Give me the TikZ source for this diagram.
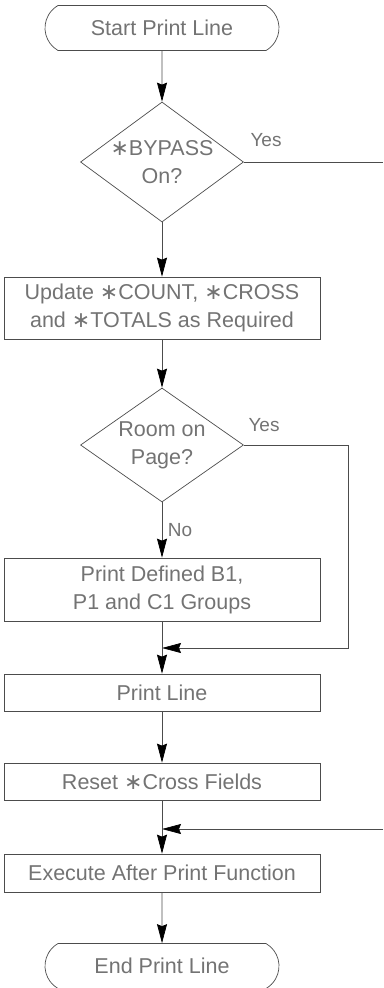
\documentclass[tikz,border=0pt]{standalone}
\usepackage{fontspec}
\setmainfont{Liberation Sans}
\newfontfamily\starfont{DejaVu Sans}
\usetikzlibrary{shapes.geometric,shapes.misc,arrows.meta}

\newcommand{\starmark}{{\starfont\fontsize{22}{28}\selectfont ∗}}

\tikzset{
    termbox/.style={shape=rounded rectangle, rounded rectangle arc length=120, draw=black!70, line width=0.7pt, minimum width=234pt, minimum height=45pt, inner sep=0pt, text=black!55},
    procbox/.style={shape=rectangle, draw=black!70, line width=0.7pt, minimum width=316pt, inner sep=0pt, align=center, text=black!55},
    decbox/.style={shape=diamond, aspect=1.36, draw=black!70, line width=0.7pt, minimum width=163pt, inner sep=0pt, align=center, text=black!55},
    wire/.style={draw=black!70, line width=0.7pt},
    flow/.style={wire, -{Stealth[length=19pt, width=10pt, inset=2pt, color=black]}},
    lbl/.style={text=black!55, font=\fontsize{19}{23}\selectfont}
}

\begin{document}
\begin{tikzpicture}[x=1pt, y=-1pt, font=\fontsize{21.5}{28}\selectfont]
    		\useasboundingbox (0,0) rectangle (383,988);
    		% Paths, nodes and wires:
    		\node[termbox](N1) at (162, 28){Start Print Line};
    		\node[decbox, minimum height=120pt](N2) at (162, 162){\starmark BYPASS\\On?};
    		\node[procbox, minimum height=62pt](N3) at (162, 308){Update \starmark COUNT, \starmark CROSS\\and \starmark TOTALS as Required};
    		\node[decbox, minimum height=114pt](N4) at (162, 445){Room on\\Page?};
    		\node[procbox, minimum height=63pt](N5) at (162, 589.5){Print Defined B1,\\P1 and C1 Groups};
    		\node[procbox, minimum height=37pt](N6) at (162, 692.5){Print Line};
    		\node[procbox, minimum height=37pt](N7) at (162, 781.5){Reset \starmark Cross Fields};
    		\node[procbox, minimum height=38pt](N8) at (162, 873){Execute After Print Function};
    		\node[termbox](N9) at (162, 966){End Print Line};
    		\node[lbl](L1) at (266, 140){Yes};
    		\node[lbl](L2) at (264, 425){Yes};
    		\node[lbl](L3) at (180, 530){No};
    		\coordinate (C1) at (383, 162);
    		\coordinate (C2) at (348, 445);
    		\coordinate (C3) at (348, 648);
    		\coordinate (M1) at (162, 648);
    		\coordinate (C4) at (383, 829);
    		\coordinate (M2) at (162, 829);
    		\draw[flow] (N1) -- (N2);
    		\draw[wire] (N2.east) -- (C1);
    		\draw[flow] (N2) -- (N3);
    		\draw[flow] (N3) -- (N4);
    		\draw[flow] (N4.east) -- (C2) -- (C3) -- (M1);
    		\draw[flow] (N4) -- (N5);
    		\draw[flow] (N5) -- (N6);
    		\draw[flow] (N6) -- (N7);
    		\draw[flow] (C4) -- (M2);
    		\draw[flow] (N7) -- (N8);
    		\draw[flow] (N8) -- (N9);
    	\end{tikzpicture}
\end{document}
